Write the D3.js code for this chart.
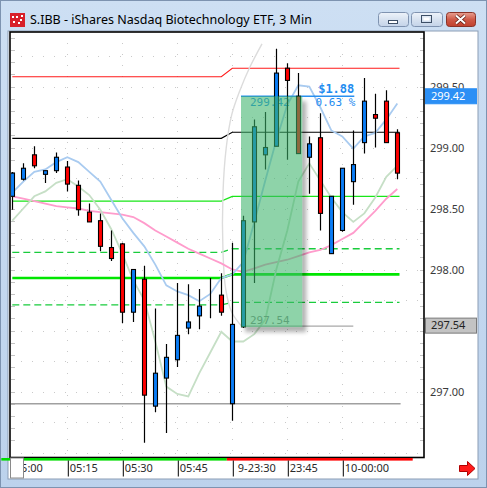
<!DOCTYPE html>
<html>
<head>
<meta charset="utf-8">
<script src="https://cdn.jsdelivr.net/npm/d3@7"></script>
<style>
  html, body { margin: 0; padding: 0; background: #fff; }
  svg { display: block; }
</style>
</head>
<body>
<svg id="chart" width="487" height="488"></svg>
<script>
// ---- 3-minute bars, S.IBB ----
const times = ["05:00","05:03","05:06","05:09","05:12","05:15","05:18","05:21","05:24","05:27",
               "05:30","05:33","05:36","05:39","05:42","05:45","05:48","05:51","05:54","05:57",
               "23:30","23:33","23:36","23:39","23:42","23:45","23:48","23:51","23:54","23:57",
               "00:00","00:03","00:06","00:09","00:12","00:15"];
const opens  = [298.60,298.74,298.94,298.78,298.81,298.84,298.69,298.47,298.40,298.18,
                298.21,297.65,297.92,296.88,297.11,297.26,297.52,297.62,297.79,297.79,
                296.90,297.53,298.39,298.94,299.01,299.65,299.42,298.92,299.08,298.13,
                298.32,298.72,299.04,299.27,299.38,299.12];
const highs  = [298.80,298.87,299.01,298.81,298.96,298.89,298.73,298.54,298.46,298.32,
                298.22,298.00,298.03,297.68,297.39,297.89,297.88,297.84,297.93,297.97,
                298.22,298.44,299.23,299.29,299.81,299.69,299.61,299.09,299.28,298.60,
                298.83,299.14,299.57,299.44,299.47,299.15];
const lows   = [298.49,298.73,298.83,298.71,298.79,298.64,298.44,298.39,298.15,298.07,
                297.56,297.57,296.58,296.83,296.66,297.20,297.47,297.51,297.60,297.62,
                296.76,297.52,297.89,298.82,299.01,298.90,298.95,298.62,298.32,298.13,
                298.31,298.53,298.95,299.00,299.04,298.74];
const closes = [298.79,298.83,298.85,298.81,298.92,298.70,298.49,298.39,298.19,298.09,
                297.65,298.00,296.97,297.15,297.28,297.46,297.57,297.70,297.79,297.65,
                297.55,298.40,299.17,299.00,299.61,299.55,298.95,299.03,298.46,298.60,
                298.83,298.86,299.38,299.24,299.04,298.79];

// moving averages (fast / medium / slow)
const maFast = [298.63,298.72,298.80,298.82,298.88,298.92,298.88,298.80,298.72,298.57,
                298.42,298.30,298.19,298.04,297.87,297.82,297.79,297.74,297.80,297.93,
                297.96,298.06,298.39,298.73,299.06,299.35,299.51,299.50,299.33,299.14,
                299.09,298.99,299.09,299.12,299.23,299.36];
const maMid  = [298.40,298.50,298.60,298.64,298.71,298.74,298.68,298.61,298.49,298.33,
                298.13,297.91,297.75,297.41,297.04,296.98,296.96,297.15,297.32,297.49,
                297.41,297.41,297.47,297.59,298.00,298.32,298.72,298.87,298.73,298.59,
                298.47,298.39,298.46,298.59,298.76,298.85];
const maSlow = [298.60,298.58,298.56,298.54,298.52,298.51,298.50,298.48,298.47,298.46,
                298.45,298.43,298.38,298.32,298.27,298.22,298.17,298.13,298.09,298.05,
                298.00,297.98,298.01,298.04,298.06,298.08,298.11,298.14,298.16,298.20,
                298.25,298.30,298.39,298.48,298.58,298.66];

// daily levels: [previous session, current session]
const levelNames  = ["R1","Pivot","S1","S2","S3","S4"];
const levelPrev   = [299.58, 299.075, 298.56, 298.14, 297.93, 297.71];
const levelCurr   = [299.65, 299.125, 298.60, 298.17, 297.96, 297.73];
const sessionBreak = 20;          // first bar of the new session

// support line drawn across the chart
const supportLine = 296.90;

// price measurement between two bars
const measureFrom = { bar: 21, price: 297.54 };
const measureTo   = { bar: 26, price: 299.42 };

// axis labels (297.50 sits under the 297.54 marker and is left out)
const priceTicks = [297.00, 298.00, 298.50, 299.00, 299.50];
const timeTickBars = [0, 5, 10, 15, 20, 25, 30];
const timeTickLabels = ["05:00","05:15","05:30","05:45","9-23:30","23:45","10-00:00"];

const title = "S.IBB - iShares Nasdaq Biotechnology ETF, 3 Min";

// ---------------------------------------------------------------
const svg = d3.select("#chart");
const W = 487, H = 488;
const plot = { left: 10, top: 32, right: 424, bottom: 457.5 };
const axisRight = 477;
const sansFont = "'Noto Sans', 'Open Sans', sans-serif";
const monoFont = "'DejaVu Sans Mono', 'Liberation Mono', monospace";

const x = d3.scaleLinear().domain([0, times.length - 1]).range([12.3, 397.3]);
const y = d3.scaleLinear().domain([296.5, 300]).range([452.5, 25.5]);

const defs = svg.append("defs");
defs.append("clipPath").attr("id", "plotClip")
  .append("rect").attr("x", plot.left + 1).attr("y", plot.top + 1)
  .attr("width", plot.right - plot.left - 1).attr("height", plot.bottom - plot.top - 1);
defs.append("filter").attr("id", "soft").attr("x", "-20%").attr("y", "-20%").attr("width", "140%").attr("height", "140%")
  .append("feGaussianBlur").attr("stdDeviation", 2.2);

const tg = defs.append("linearGradient").attr("id", "titleGrad").attr("x1", 0).attr("y1", 0).attr("x2", 0).attr("y2", 1);
tg.append("stop").attr("offset", "0%").attr("stop-color", "#cddff3");
tg.append("stop").attr("offset", "100%").attr("stop-color", "#bcd2ec");
const bg = defs.append("linearGradient").attr("id", "btnGrad").attr("x1", 0).attr("y1", 0).attr("x2", 0).attr("y2", 1);
bg.append("stop").attr("offset", "0%").attr("stop-color", "#eef3fa");
bg.append("stop").attr("offset", "50%").attr("stop-color", "#d7e2f0");
bg.append("stop").attr("offset", "100%").attr("stop-color", "#c4d3e8");
const cg = defs.append("linearGradient").attr("id", "closeGrad").attr("x1", 0).attr("y1", 0).attr("x2", 0).attr("y2", 1);
cg.append("stop").attr("offset", "0%").attr("stop-color", "#e8a092");
cg.append("stop").attr("offset", "50%").attr("stop-color", "#cf5a48");
cg.append("stop").attr("offset", "100%").attr("stop-color", "#c0402e");

// ---- window frame ----
svg.append("rect").attr("width", W).attr("height", H).attr("fill", "url(#titleGrad)");
svg.append("rect").attr("x", 0.5).attr("y", 0.5).attr("width", W - 1).attr("height", H - 1)
  .attr("fill", "none").attr("stroke", "#7d93b0");
svg.append("rect").attr("x", 8).attr("y", 31).attr("width", axisRight - 8 + 1).attr("height", 479 - 31)
  .attr("fill", "#fff").attr("stroke", "#8b9db5").attr("stroke-width", 1);

// title bar icon
const icon = svg.append("g").attr("transform", "translate(10,13)");
icon.append("rect").attr("width", 15).attr("height", 14).attr("fill", "#d8202a");
[[2,3],[6,3],[10,6],[3,8],[8,9],[11,2]].forEach(([a, b]) =>
  icon.append("rect").attr("x", a).attr("y", b).attr("width", 2).attr("height", 2).attr("fill", "#fff"));

svg.append("text").attr("x", 30).attr("y", 24)
  .attr("font-family", sansFont).attr("font-size", 12.5).attr("fill", "#000")
  .text(title);

// caption buttons
const buttons = [
  { x: 378, w: 30, kind: "min" },
  { x: 411, w: 31, kind: "max" },
  { x: 446, w: 29, kind: "close" }
];
const btn = svg.selectAll("g.btn").data(buttons).join("g").attr("class", "btn")
  .attr("transform", d => `translate(${d.x},12)`);
btn.append("rect").attr("x", 0.5).attr("y", 0.5).attr("width", d => d.w).attr("height", 14).attr("rx", 3)
  .attr("fill", d => d.kind === "close" ? "url(#closeGrad)" : "url(#btnGrad)")
  .attr("stroke", d => d.kind === "close" ? "#8a3328" : "#7f93b0");
btn.filter(d => d.kind === "min").append("rect")
  .attr("x", 10.5).attr("y", 8.5).attr("width", 9).attr("height", 3).attr("fill", "#fff").attr("stroke", "#3d4f66");
btn.filter(d => d.kind === "max").append("rect")
  .attr("x", 10.5).attr("y", 3.5).attr("width", 10).attr("height", 7).attr("fill", "none").attr("stroke", "#3d4f66").attr("stroke-width", 1);
btn.filter(d => d.kind === "max").append("rect")
  .attr("x", 12.5).attr("y", 5.5).attr("width", 6).attr("height", 3).attr("fill", "#fff");
btn.filter(d => d.kind === "close").append("path")
  .attr("d", "M10,3.5 L19,11.5 M19,3.5 L10,11.5")
  .attr("stroke", "#5a1a12").attr("stroke-width", 3.4);
btn.filter(d => d.kind === "close").append("path")
  .attr("d", "M10,3.5 L19,11.5 M19,3.5 L10,11.5")
  .attr("stroke", "#fff").attr("stroke-width", 2);

// ---- plot background and grid ----
const gPlot = svg.append("g").attr("clip-path", "url(#plotClip)");
gPlot.append("rect").attr("x", plot.left).attr("y", plot.top)
  .attr("width", plot.right - plot.left).attr("height", plot.bottom - plot.top).attr("fill", "#fff");

const gridPrices = d3.range(296.5, 300.01, 0.25);
gPlot.selectAll("line.hgrid").data(gridPrices).join("line").attr("class", "hgrid")
  .attr("x1", plot.left).attr("x2", plot.right)
  .attr("y1", d => Math.round(y(d)) + 0.5).attr("y2", d => Math.round(y(d)) + 0.5)
  .attr("stroke", "#c9c9c9").attr("stroke-dasharray", "1,10");
gPlot.selectAll("line.vgrid").data(timeTickBars.slice(1)).join("line").attr("class", "vgrid")
  .attr("x1", d => Math.round(x(d)) + 0.5).attr("x2", d => Math.round(x(d)) + 0.5)
  .attr("y1", plot.top).attr("y2", plot.bottom)
  .attr("stroke", "#c9c9c9").attr("stroke-dasharray", "1,10");

// minor price ticks along both inner edges
const minorPrices = d3.range(296.6, 300.0, 0.1);
[[plot.left + 1, plot.left + 5], [plot.right - 4, plot.right]].forEach(([a, b]) => {
  gPlot.append("g").selectAll("line").data(minorPrices).join("line")
    .attr("x1", a).attr("x2", b)
    .attr("y1", d => Math.round(y(d)) + 0.5).attr("y2", d => Math.round(y(d)) + 0.5)
    .attr("stroke", "#c4c4c4");
});

// ---- daily levels ----
const levelStyles = [
  { color: "#ff1a1a", width: 1.1, dash: null },
  { color: "#000000", width: 1.1, dash: null },
  { color: "#19e619", width: 1.3, dash: null },
  { color: "#19cc3c", width: 1.3, dash: "7,4" },
  { color: "#00e600", width: 2.6, dash: null },
  { color: "#19cc3c", width: 1.3, dash: "7,4" }
];
const levelLine = d3.line().x(d => x(d[0])).y(d => y(d[1]));
levelNames.forEach((name, k) => {
  const pts = [[0, levelPrev[k]], [sessionBreak - 1, levelPrev[k]],
               [sessionBreak, levelCurr[k]], [times.length - 1 + 0.2, levelCurr[k]]];
  gPlot.append("path").attr("d", levelLine(pts)).attr("fill", "none")
    .attr("stroke", levelStyles[k].color).attr("stroke-width", levelStyles[k].width)
    .attr("stroke-dasharray", levelStyles[k].dash);
});

// support line
gPlot.append("line")
  .attr("x1", plot.left).attr("x2", x(times.length - 1 + 0.3))
  .attr("y1", y(supportLine)).attr("y2", y(supportLine))
  .attr("stroke", "#a0a0a0").attr("stroke-width", 1.5);

// faint arc drawing (bar index, price)
const arcPts = [[22.7,299.85],[21.6,299.66],[20.7,299.47],[19.95,299.27],[19.45,299.0],
                [19.15,298.62],[19.15,298.15],[19.4,297.84],[19.95,297.65],[20.9,297.53]];
gPlot.append("path")
  .attr("d", d3.line().x(d => x(d[0])).y(d => y(d[1])).curve(d3.curveCatmullRom)(arcPts))
  .attr("fill", "none").attr("stroke", "#dcdcdc").attr("stroke-width", 1.4);

// ---- moving averages ----
const maLine = d3.line().x((d, i) => x(i)).y(d => y(d));
[[maSlow, "#ff9ccc"], [maMid, "#c6dfc6"], [maFast, "#a9cbf0"]].forEach(([arr, col]) => {
  gPlot.append("path").attr("d", maLine(arr)).attr("fill", "none")
    .attr("stroke", col).attr("stroke-width", 1.8);
});

// ---- measurement labels and guide lines (beneath the shaded box) ----
const xm0 = x(measureFrom.bar) - 2.3;
const xmEnd = x(31) + 1;
gPlot.append("line").attr("x1", xm0).attr("x2", xmEnd)
  .attr("y1", y(measureTo.price)).attr("y2", y(measureTo.price))
  .attr("stroke", "#2a90f0").attr("stroke-width", 1.3);
gPlot.append("line").attr("x1", xm0 + 2).attr("x2", xmEnd - 1)
  .attr("y1", y(measureFrom.price) + 0.5).attr("y2", y(measureFrom.price) + 0.5)
  .attr("stroke", "#a8a8a8").attr("stroke-width", 1.2);
const diff = measureTo.price - measureFrom.price;
gPlot.append("text").attr("x", xmEnd).attr("y", y(measureTo.price) - 3)
  .attr("text-anchor", "end").attr("font-family", monoFont).attr("font-weight", "bold")
  .attr("font-size", 12).attr("fill", "#1e8cf0").text("$" + diff.toFixed(2));
gPlot.append("text").attr("x", xmEnd + 1).attr("y", y(measureTo.price) + 10)
  .attr("text-anchor", "end").attr("font-family", monoFont)
  .attr("font-size", 11).attr("fill", "#1e8cf0")
  .text((diff / measureFrom.price * 100).toFixed(2) + " %");
gPlot.append("text").attr("x", xm0 + 9).attr("y", y(measureTo.price) + 10)
  .attr("font-family", monoFont).attr("font-size", 11).attr("fill", "#1e8cf0")
  .text(measureTo.price.toFixed(2));
gPlot.append("text").attr("x", xm0 + 9).attr("y", y(measureFrom.price) - 1.5)
  .attr("font-family", monoFont).attr("font-size", 11).attr("fill", "#8a8a8a")
  .text(measureFrom.price.toFixed(2));

// ---- candles ----
const bars = times.map((t, i) => ({ t, i, o: opens[i], h: highs[i], l: lows[i], c: closes[i] }));
const cx = d => Math.round(x(d.i)) + 0.5;
const gC = gPlot.append("g");
gC.selectAll("line.wick").data(bars).join("line").attr("class", "wick")
  .attr("x1", cx).attr("x2", cx)
  .attr("y1", d => y(d.h)).attr("y2", d => y(d.l))
  .attr("stroke", "#000").attr("stroke-width", 1.2);
gC.selectAll("rect.body").data(bars).join("rect").attr("class", "body")
  .attr("x", d => cx(d) - 2).attr("width", 4)
  .attr("y", d => y(Math.max(d.o, d.c)))
  .attr("height", d => Math.abs(y(d.o) - y(d.c)))
  .attr("fill", d => d.c >= d.o ? "#0a7df7" : "#ff0000")
  .attr("stroke", "#000").attr("stroke-width", 1.1);

// ---- shaded measurement box with a drop shadow outside it ----
const xm1 = x(measureTo.bar) + 4;
const yTop = y(measureTo.price), yBot = y(measureFrom.price) + 1.5;
const mask = defs.append("mask").attr("id", "boxHole").attr("maskUnits", "userSpaceOnUse")
  .attr("x", 0).attr("y", 0).attr("width", W).attr("height", H);
mask.append("rect").attr("width", W).attr("height", H).attr("fill", "#fff");
mask.append("rect").attr("x", xm0).attr("y", yTop).attr("width", xm1 - xm0).attr("height", yBot - yTop).attr("fill", "#000");
gPlot.append("g").attr("mask", "url(#boxHole)")
  .append("rect").attr("x", xm0 + 4).attr("y", yTop + 5)
  .attr("width", xm1 - xm0).attr("height", yBot - yTop)
  .attr("fill", "#000").attr("opacity", 0.3).attr("filter", "url(#soft)");
gPlot.append("rect").attr("x", xm0).attr("y", yTop)
  .attr("width", xm1 - xm0).attr("height", yBot - yTop)
  .attr("fill", "#3cb36b").attr("fill-opacity", 0.58);

// ---- plot border ----
svg.append("rect").attr("x", plot.left).attr("y", plot.top)
  .attr("width", plot.right - plot.left).attr("height", plot.bottom - plot.top)
  .attr("fill", "none").attr("stroke", "#000").attr("stroke-width", 1.6);

// ---- price axis ----
const yAxis = d3.axisRight(y).tickValues(priceTicks).tickSize(0).tickPadding(6)
  .tickFormat(d3.format(".2f"));
const gy = svg.append("g").attr("transform", `translate(${plot.right},0)`).call(yAxis);
gy.select(".domain").remove();
gy.selectAll("text").attr("font-family", sansFont).attr("font-size", 11).attr("fill", "#3a3a3a");

// current markers on the axis
const markers = [
  { p: measureTo.price, fill: "#2b8ff5", stroke: "#2b8ff5", text: "#fff" },
  { p: measureFrom.price, fill: "#c3c3c3", stroke: "#7a7a7a", text: "#222" }
];
const gm = svg.selectAll("g.marker").data(markers).join("g").attr("class", "marker")
  .attr("transform", d => `translate(${plot.right + 1},${y(d.p)})`);
gm.append("rect").attr("x", 0.5).attr("y", -7.5).attr("width", 51).attr("height", 15)
  .attr("fill", d => d.fill).attr("stroke", d => d.stroke);
gm.append("text").attr("x", 6).attr("dy", "0.35em")
  .attr("font-family", sansFont).attr("font-size", 11).attr("fill", d => d.text)
  .text(d => d.p.toFixed(2));

// ---- session bars under the plot ----
const sessions = [
  { from: -1, to: sessionBreak - 0.5, color: "#00dd00" },
  { from: sessionBreak - 0.5, to: times.length + 0.4, color: "#ff0000" }
];
svg.selectAll("rect.session").data(sessions).join("rect").attr("class", "session")
  .attr("x", d => x(d.from)).attr("width", d => x(d.to) - x(d.from))
  .attr("y", plot.bottom + 0.5).attr("height", 2.6).attr("fill", d => d.color);

// ---- time axis ----
const xAxis = d3.axisBottom(x).tickValues(timeTickBars).tickSize(16)
  .tickFormat((d, k) => timeTickLabels[k]);
const gx = svg.append("g").attr("transform", `translate(0,${plot.bottom + 3})`).call(xAxis);
gx.select(".domain").remove();
gx.selectAll(".tick line").attr("stroke", "#000").attr("transform", "translate(0.5,0)");
gx.selectAll(".tick text").attr("text-anchor", "start")
  .attr("x", (d, k) => timeTickLabels[k].length === 7 ? 5 : 2)
  .attr("y", 4).attr("dy", "0.71em")
  .attr("font-family", sansFont).attr("font-size", 11).attr("fill", "#2a2a2a");

// scroll box at the left end of the time axis
svg.append("rect").attr("x", plot.left + 0.5).attr("y", plot.bottom + 0.5)
  .attr("width", 13).attr("height", 20).attr("fill", "#fff").attr("stroke", "#8a8a8a");

// right-pointing arrow
svg.append("path")
  .attr("d", "M459.5,465.5 L467.5,465.5 L467.5,461.5 L475,468.5 L467.5,475.5 L467.5,471.5 L459.5,471.5 Z")
  .attr("fill", "#ff1a1a").attr("stroke", "#b00000").attr("stroke-width", 1);
</script>
</body>
</html>
